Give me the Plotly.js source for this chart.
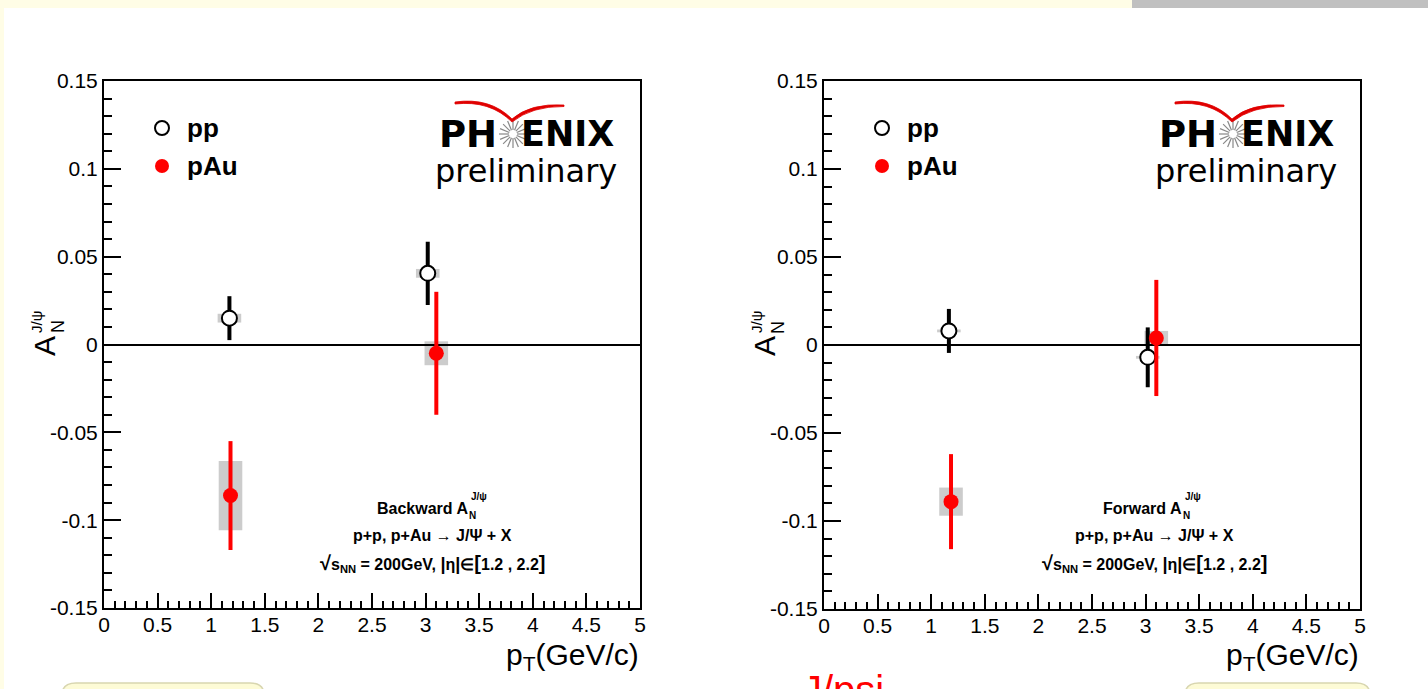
<!DOCTYPE html>
<html>
<head>
<meta charset="utf-8">
<script src="https://cdn.plot.ly/plotly-3.0.1.min.js"></script>
<style>html,body{margin:0;padding:0;background:#fff;}#chart{width:1428px;height:689px;}</style>
</head>
<body>
<div id="chart"></div>
<script>
// ---------- data ----------
// Backward (left panel)
const bwd_pp_pt   = [1.17, 3.02];
const bwd_pp_AN   = [0.015, 0.0405];
const bwd_pp_stat = [0.0125, 0.018];
const bwd_pp_sys  = [0.0025, 0.0025];
const bwd_pAu_pt   = [1.18, 3.10];
const bwd_pAu_AN   = [-0.086, -0.005];
const bwd_pAu_stat = [0.031, 0.035];
const bwd_pAu_sys  = [0.0197, 0.0068];
// Forward (right panel)
const fwd_pp_pt   = [1.165, 3.02];
const fwd_pp_AN   = [0.008, -0.007];
const fwd_pp_stat = [0.0125, 0.017];
const fwd_pp_sys  = [0.0008, 0.0008];
const fwd_pAu_pt   = [1.185, 3.10];
const fwd_pAu_AN   = [-0.089, 0.004];
const fwd_pAu_stat = [0.027, 0.033];
const fwd_pAu_sys  = [0.008, 0.004];

const xTickVals = [0,0.5,1,1.5,2,2.5,3,3.5,4,4.5,5];
const xTickText = ["0","0.5","1","1.5","2","2.5","3","3.5","4","4.5","5"];
const yTickVals = [-0.15,-0.1,-0.05,0,0.05,0.1,0.15];
const yTickText = ["-0.15","-0.1","-0.05","0","0.05","0.1","0.15"];
const legendLabels = ["pp","pAu"];
const panelTitles = ["Backward", "Forward"];

// ---------- helpers ----------
const W = 1428, H = 689;
const px = x => x / W;
const py = y => 1 - y / H;
const FONT = "Liberation Sans, Arial, Helvetica, sans-serif";
const SYS_HALF_W = 0.11;

function ppTrace(xs, ys, err, xa, ya) {
  return {
    x: xs, y: ys, xaxis: xa, yaxis: ya, type: 'scatter', mode: 'markers',
    marker: {symbol: 'circle', size: 15, color: '#ffffff', line: {color: '#000', width: 2}},
    error_y: {type: 'data', array: err, visible: true, color: '#000', thickness: 4, width: 0},
    showlegend: false, hoverinfo: 'x+y'
  };
}
function pAuTrace(xs, ys, err, xa, ya) {
  return {
    x: xs, y: ys, xaxis: xa, yaxis: ya, type: 'scatter', mode: 'markers',
    marker: {symbol: 'circle', size: 15, color: '#ff0000'},
    error_y: {type: 'data', array: err, visible: true, color: '#ff0000', thickness: 4, width: 0},
    showlegend: false, hoverinfo: 'x+y'
  };
}
function sysBoxes(xs, ys, sys, xa, ya) {
  return xs.map((x, i) => ({
    type: 'rect', xref: xa, yref: ya, layer: 'below',
    x0: x - SYS_HALF_W, x1: x + SYS_HALF_W, y0: ys[i] - sys[i], y1: ys[i] + sys[i],
    fillcolor: '#cccccc', line: {width: 0}
  }));
}

const data = [
  ppTrace(bwd_pp_pt, bwd_pp_AN, bwd_pp_stat, 'x', 'y'),
  pAuTrace(bwd_pAu_pt, bwd_pAu_AN, bwd_pAu_stat, 'x', 'y'),
  ppTrace(fwd_pp_pt, fwd_pp_AN, fwd_pp_stat, 'x2', 'y2'),
  pAuTrace(fwd_pAu_pt, fwd_pAu_AN, fwd_pAu_stat, 'x2', 'y2')
];

function xAxis(domain, anchor) {
  return {
    domain: domain, anchor: anchor, range: [0, 5], fixedrange: true,
    tickmode: 'array', tickvals: xTickVals, ticktext: xTickText,
    ticks: 'inside', ticklen: 15, tickwidth: 2, tickcolor: '#000',
    minor: {dtick: 0.1, tick0: 0, ticks: 'inside', ticklen: 7, tickwidth: 2, tickcolor: '#000'},
    showline: true, linewidth: 2, linecolor: '#000', mirror: true,
    showgrid: false, zeroline: false,
    tickfont: {family: FONT, size: 21, color: '#000'}, ticklabelstandoff: -3
  };
}
function yAxis(domain, anchor) {
  return {
    domain: domain, anchor: anchor, range: [-0.15, 0.15], fixedrange: true,
    tickmode: 'array', tickvals: yTickVals, ticktext: yTickText,
    ticks: 'inside', ticklen: 17, tickwidth: 2, tickcolor: '#000',
    minor: {dtick: 0.01, tick0: 0, ticks: 'inside', ticklen: 8, tickwidth: 2, tickcolor: '#000'},
    showline: true, linewidth: 2, linecolor: '#000', mirror: true,
    showgrid: false, zeroline: true, zerolinecolor: '#000', zerolinewidth: 2,
    tickfont: {family: FONT, size: 21, color: '#000'}, ticklabelstandoff: 0
  };
}

const panels = [
  {x0: 104, x1: 640, yTop: 81, yBot: 608},
  {x0: 824, x1: 1360, yTop: 81, yBot: 609}
];

let shapes = [
  // slide background bits
  {type: 'rect', xref: 'paper', yref: 'paper', x0: 0, x1: 1, y0: py(8), y1: 1, fillcolor: '#fffde6', line: {width: 0}, layer: 'below'},
  {type: 'rect', xref: 'paper', yref: 'paper', x0: px(1132), x1: 1, y0: py(8), y1: 1, fillcolor: '#c0c0c0', line: {width: 0}, layer: 'below'},
  {type: 'rect', xref: 'paper', yref: 'paper', x0: 0, x1: px(4), y0: 0, y1: 1, fillcolor: '#fffde6', line: {width: 0}, layer: 'below'},
  {type: 'path', xref: 'paper', yref: 'paper', layer: 'below',
   path: `M ${px(62)} ${py(700)} L ${px(62)} ${py(695)} Q ${px(62)} ${py(683)} ${px(76)} ${py(683)} L ${px(250)} ${py(683)} Q ${px(264)} ${py(683)} ${px(264)} ${py(695)} L ${px(264)} ${py(700)} Z`,
   fillcolor: '#fdfbd6', line: {color: '#d8d6b0', width: 1.5}},
  {type: 'path', xref: 'paper', yref: 'paper', layer: 'below',
   path: `M ${px(1185)} ${py(700)} L ${px(1185)} ${py(695)} Q ${px(1185)} ${py(683)} ${px(1199)} ${py(683)} L ${px(1356)} ${py(683)} Q ${px(1370)} ${py(683)} ${px(1370)} ${py(695)} L ${px(1370)} ${py(700)} Z`,
   fillcolor: '#fdfbd6', line: {color: '#d8d6b0', width: 1.5}}
];
shapes = shapes
  .concat(sysBoxes(bwd_pp_pt, bwd_pp_AN, bwd_pp_sys, 'x', 'y'))
  .concat(sysBoxes(bwd_pAu_pt, bwd_pAu_AN, bwd_pAu_sys, 'x', 'y'))
  .concat(sysBoxes(fwd_pp_pt, fwd_pp_AN, fwd_pp_sys, 'x2', 'y2'))
  .concat(sysBoxes(fwd_pAu_pt, fwd_pAu_AN, fwd_pAu_sys, 'x2', 'y2'));

const annotations = [];
function addAnn(o) { annotations.push(Object.assign({xref: 'paper', yref: 'paper', showarrow: false}, o)); }

panels.forEach((p, k) => {
  const dx = p.x0 - 104;
  // legend markers
  shapes.push({type: 'circle', xref: 'paper', yref: 'paper', x0: px(155 + dx), x1: px(169 + dx), y0: py(121), y1: py(135), line: {color: '#000', width: 2}, fillcolor: 'rgba(0,0,0,0)'});
  shapes.push({type: 'circle', xref: 'paper', yref: 'paper', x0: px(155 + dx), x1: px(169 + dx), y0: py(159), y1: py(173), line: {width: 0}, fillcolor: '#ff0000'});
  addAnn({x: px(185 + dx), y: py(128), xanchor: 'left', yanchor: 'middle', text: '<b>' + legendLabels[0] + '</b>', font: {family: FONT, size: 26, color: '#000'}});
  addAnn({x: px(185 + dx), y: py(166), xanchor: 'left', yanchor: 'middle', text: '<b>' + legendLabels[1] + '</b>', font: {family: FONT, size: 26, color: '#000'}});

  // PHENIX logo
  const LX = 513 + dx;
  addAnn({x: px(437 + dx), y: py(134), xanchor: 'left', yanchor: 'middle', text: '<b>PH</b>', font: {family: 'DejaVu Sans, sans-serif', size: 37, color: '#000'}});
  addAnn({x: px(616 + dx), y: py(134), xanchor: 'right', yanchor: 'middle', text: '<b>ENIX</b>', font: {family: 'DejaVu Sans, sans-serif', size: 35, color: '#000'}});
  addAnn({x: px(526 + dx), y: py(171), xanchor: 'center', yanchor: 'middle', text: 'preliminary', font: {family: 'DejaVu Sans, sans-serif', size: 32, color: '#000'}});
  for (let a = 0; a < 16; a++) {
    const ang = a * Math.PI / 8;
    const r0 = 4, r1 = 14;
    shapes.push({type: 'line', xref: 'paper', yref: 'paper',
      x0: px(LX + r0 * Math.cos(ang)), y0: py(134 + r0 * Math.sin(ang)),
      x1: px(LX + r1 * Math.cos(ang)), y1: py(134 + r1 * Math.sin(ang)),
      line: {color: '#888888', width: 1.2}});
  }
  shapes.push({type: 'path', xref: 'paper', yref: 'paper',
    path: `M ${px(455 + dx)} ${py(102)} Q ${px(490 + dx)} ${py(97)} ${px(512 + dx)} ${py(119)} Q ${px(530 + dx)} ${py(103)} ${px(564 + dx)} ${py(105)} L ${px(564 + dx)} ${py(106.5)} Q ${px(532 + dx)} ${py(106)} ${px(512 + dx)} ${py(122)} Q ${px(490 + dx)} ${py(100)} ${px(455 + dx)} ${py(104)} Z`,
    fillcolor: '#e00000', line: {color: '#e00000', width: 0.8}});

  // info text block
  const cx = (k === 0 ? 433 : 1154);
  const titleR = (k === 0 ? 470 : 1184);   // right edge of "... A"
  const tf = {family: FONT, size: 16, color: '#000'};
  addAnn({x: px(titleR), y: py(508), xanchor: 'right', yanchor: 'middle', text: '<b>' + panelTitles[k] + ' A</b>', font: tf});
  addAnn({x: px(titleR - 3), y: py(515), xanchor: 'left', yanchor: 'middle', text: '<b>N</b>', font: {family: FONT, size: 10, color: '#000'}});
  addAnn({x: px(titleR - 1), y: py(496), xanchor: 'left', yanchor: 'middle', text: '<b>J/ψ</b>', font: {family: FONT, size: 10, color: '#000'}});
  addAnn({x: px(cx), y: py(535), xanchor: 'center', yanchor: 'middle', text: '<b>p+p, p+Au → J/Ψ + X</b>', font: tf});
  addAnn({x: px(cx), y: py(563), xanchor: 'center', yanchor: 'middle',
    text: '<b><span style="font-size:20px">√</span>s<sub>NN</sub> = 200GeV, <span style="font-size:18px">|</span>η<span style="font-size:18px">|</span>∈<span style="font-size:20px">[</span>1.2 , 2.2<span style="font-size:20px">]</span></b>', font: tf});

  // y-axis title: A_N^{J/psi}
  addAnn({x: px(45 + dx), y: py(346), xanchor: 'center', yanchor: 'middle', textangle: -90, text: 'A', font: {family: FONT, size: 30, color: '#000'}});
  addAnn({x: px(58 + dx), y: py(327), xanchor: 'center', yanchor: 'middle', textangle: -90, text: 'N', font: {family: FONT, size: 18, color: '#000'}});
  addAnn({x: px(36 + dx), y: py(322), xanchor: 'center', yanchor: 'middle', textangle: -90, text: 'J/ψ', font: {family: FONT, size: 15, color: '#000'}});

  // x-axis title
  addAnn({x: px(p.x1 + 1), y: py(656), xanchor: 'right', yanchor: 'middle', text: 'p<sub>T</sub>(GeV/c)', font: {family: FONT, size: 30, color: '#000'}});
});

// partially visible slide title at bottom
addAnn({x: px(800), y: py(666), xanchor: 'left', yanchor: 'top', text: 'J/psi', font: {family: FONT, size: 40, color: '#ff0000'}});

const layout = {
  width: W, height: H,
  margin: {l: 0, r: 0, t: 0, b: 0},
  paper_bgcolor: '#ffffff', plot_bgcolor: '#ffffff',
  showlegend: false,
  xaxis: xAxis([px(panels[0].x0), px(panels[0].x1)], 'y'),
  yaxis: yAxis([py(panels[0].yBot), py(panels[0].yTop)], 'x'),
  xaxis2: xAxis([px(panels[1].x0), px(panels[1].x1)], 'y2'),
  yaxis2: yAxis([py(panels[1].yBot), py(panels[1].yTop)], 'x2'),
  shapes: shapes,
  annotations: annotations
};

Plotly.newPlot('chart', data, layout, {staticPlot: true, displayModeBar: false});
</script>
</body>
</html>
